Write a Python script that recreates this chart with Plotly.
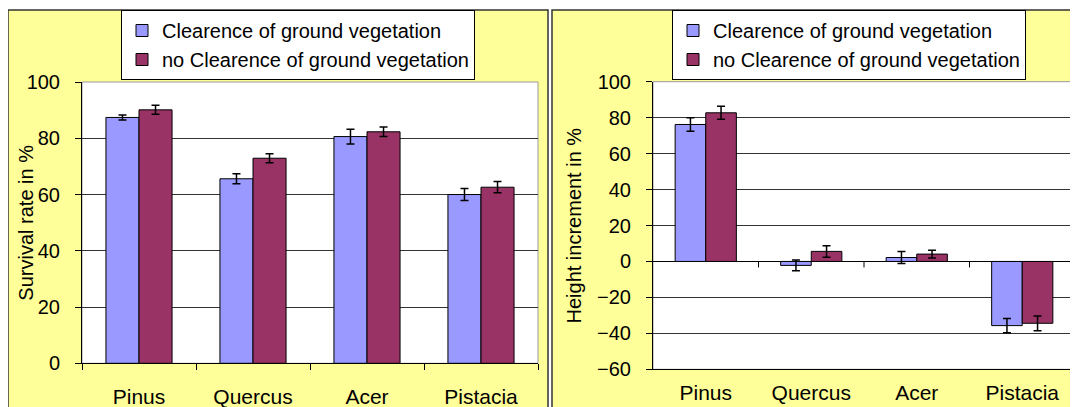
import plotly.graph_objects as go

# --- Datos ---
especies = ["Pinus", "Quercus", "Acer", "Pistacia"]

supervivencia_limpia = [87.4, 65.6, 80.6, 60.0]
supervivencia_limpia_err = [0.9, 1.8, 2.6, 2.1]
supervivencia_sin = [90.1, 72.9, 82.3, 62.6]
supervivencia_sin_err = [1.6, 1.6, 1.7, 2.0]

altura_limpia = [76.2, -2.2, 2.2, -35.7]
altura_limpia_err = [3.7, 3.0, 3.3, 3.9]
altura_sin = [82.7, 5.6, 4.1, -34.4]
altura_sin_err = [3.6, 3.2, 2.2, 4.1]

nombres = ["Clearence of ground vegetation", "no Clearence of ground vegetation"]

W, H = 1078, 407
MARGEN_PAGINA = 8  # margen por defecto del <body> en la página
FUENTE = "Liberation Sans, Arial, sans-serif"
AZUL = "#9999FF"
GRANATE = "#993366"
AMARILLO = "#FFFF99"


def px(x):
    return (x - MARGEN_PAGINA) / W


def py(y):
    return 1 - (y - MARGEN_PAGINA) / H


fig = go.Figure()

series = [
    (supervivencia_limpia, supervivencia_limpia_err, AZUL, nombres[0], "x", "y", "legend", "a1"),
    (supervivencia_sin, supervivencia_sin_err, GRANATE, nombres[1], "x", "y", "legend", "a2"),
    (altura_limpia, altura_limpia_err, AZUL, nombres[0], "x2", "y2", "legend2", "b1"),
    (altura_sin, altura_sin_err, GRANATE, nombres[1], "x2", "y2", "legend2", "b2"),
]
for valores, errores, color, nombre, xa, ya, leyenda, grupo in series:
    fig.add_trace(go.Bar(
        x=especies, y=valores, name=nombre,
        marker=dict(color=color, line=dict(color="black", width=1)),
        error_y=dict(type="data", array=errores, color="black", thickness=1.5, width=4),
        xaxis=xa, yaxis=ya, legend=leyenda, legendgroup=grupo,
    ))

# --- Marcos amarillos y fondos de las áreas de trazado ---
shapes = [
    dict(type="rect", xref="paper", yref="paper", x0=px(8), x1=px(548), y0=-0.1, y1=py(10),
         fillcolor=AMARILLO, line=dict(color="#333", width=1.5), layer="below"),
    dict(type="rect", xref="paper", yref="paper", x0=px(552), x1=1.1, y0=-0.1, y1=py(10),
         fillcolor=AMARILLO, line=dict(color="#333", width=1.5), layer="below"),
    dict(type="rect", xref="x domain", yref="y domain", x0=0, x1=1, y0=0, y1=1,
         fillcolor="white", line=dict(color="#999", width=1), layer="below"),
    dict(type="rect", xref="x2 domain", yref="y2 domain", x0=0, x1=1, y0=0, y1=1,
         fillcolor="white", line=dict(color="#999", width=1), layer="below"),
]
# marcas de categoría sobre la línea del cero del panel derecho
for i in range(1, len(especies)):
    shapes.append(dict(type="line", xref="x2", yref="y2", x0=i - 0.5, x1=i - 0.5,
                       ysizemode="pixel", yanchor=0, y0=0, y1=-6,
                       line=dict(color="black", width=1), layer="above"))

eje_y = dict(
    showline=True, linecolor="black", linewidth=1,
    ticks="outside", ticklen=6, tickcolor="black",
    gridcolor="#333", gridwidth=1, ticklabelstandoff=11,
    tickfont=dict(size=20, color="black", family=FUENTE),
    dtick=20, automargin=False,
)
eje_x = dict(
    showline=True, linecolor="black", linewidth=1,
    tickfont=dict(size=21, color="black", family=FUENTE),
    showgrid=False, automargin=False,
)

leyenda = dict(
    bgcolor="white", bordercolor="black", borderwidth=1,
    font=dict(size=20, color="black", family=FUENTE),
    xanchor="left", yanchor="top", traceorder="grouped", tracegroupgap=0,
)

dom_x1 = [px(82), px(538)]
dom_y1 = [py(363.3), py(82)]
dom_x2 = [px(653), px(1075)]
dom_y2 = [py(369.3), py(81.7)]

titulo = dict(size=20, color="black", family=FUENTE)

fig.update_layout(
    width=W, height=H,
    margin=dict(l=0, r=0, t=0, b=0),
    paper_bgcolor="white", plot_bgcolor="rgba(0,0,0,0)",
    barmode="group", bargap=0.42, bargroupgap=0,
    font=dict(family=FUENTE, color="black"),
    shapes=shapes,
    xaxis=dict(eje_x, domain=dom_x1, anchor="y", ticks="outside", ticklen=6,
               tickcolor="black", tickson="boundaries", ticklabelstandoff=14),
    yaxis=dict(eje_y, domain=dom_y1, anchor="x", range=[0, 100], zeroline=False),
    xaxis2=dict(eje_x, domain=dom_x2, anchor="y2", ticks="", ticklabelstandoff=4),
    yaxis2=dict(eje_y, domain=dom_y2, anchor="x2", range=[-60, 100],
                zeroline=True, zerolinecolor="black", zerolinewidth=1),
    legend=dict(leyenda, x=px(121), y=py(10)),
    legend2=dict(leyenda, x=px(672), y=py(10)),
    annotations=[
        dict(text="Survival rate in %", textangle=-90, xref="paper", yref="paper",
             x=px(26), y=(dom_y1[0] + dom_y1[1]) / 2, xanchor="center", yanchor="middle",
             showarrow=False, font=titulo),
        dict(text="Height increment in %", textangle=-90, xref="paper", yref="paper",
             x=px(574), y=(dom_y2[0] + dom_y2[1]) / 2, xanchor="center", yanchor="middle",
             showarrow=False, font=titulo),
    ],
    showlegend=True,
)

fig.write_html("out.html")
